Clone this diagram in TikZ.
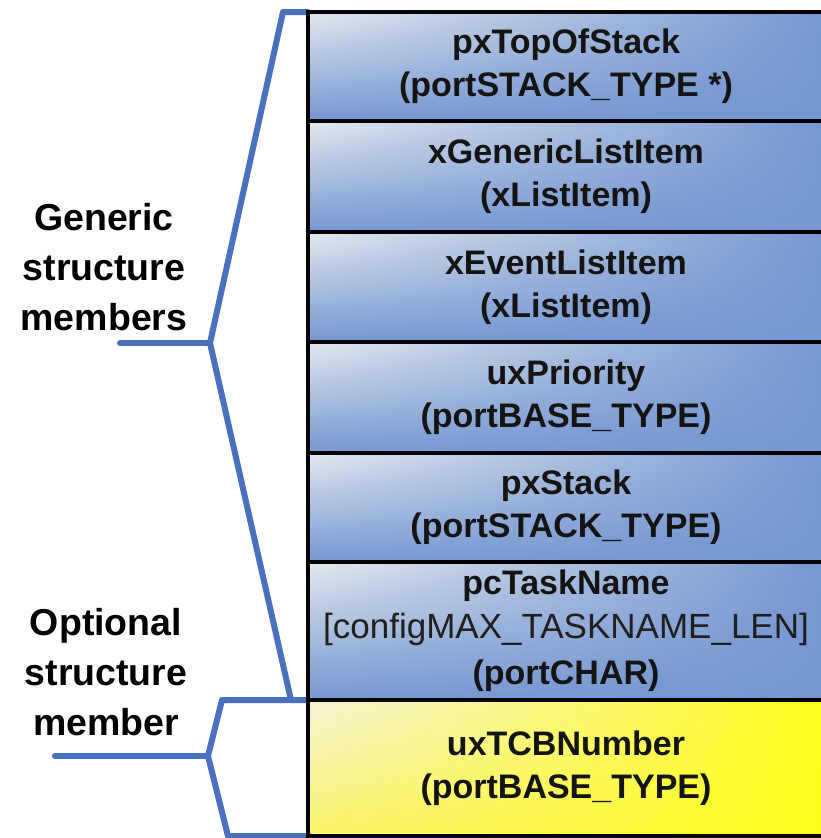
\documentclass[tikz,border=0pt]{standalone}
\usepackage{fontspec}
\setmainfont{Liberation Sans}
\usetikzlibrary{fadings}
\definecolor{braceblue}{HTML}{4A70C0}
\definecolor{boxlight}{HTML}{E4E8EF}
\definecolor{boxblue}{HTML}{7598D1}
\definecolor{ylight}{HTML}{F6F2D6}
\definecolor{ymid}{HTML}{FAF56A}
\definecolor{ybright}{HTML}{FFFF1E}
\begin{document}
\begin{tikzpicture}[x=1pt,y=-1pt,
  field/.style={draw=black, line width=3.5pt, minimum width=516pt, inner sep=0pt,
    align=center, font=\bfseries\fontsize{34}{43}\selectfont, text=black!92},
  bluefield/.style={field, top color=boxlight, bottom color=boxblue,
    path picture={\fill[boxblue, path fading=west] (path picture bounding box.south west) rectangle (path picture bounding box.north east);}},
  yellowfield/.style={field, top color=ylight, bottom color=ymid,
    path picture={\fill[ybright, path fading=west] (path picture bounding box.south west) rectangle (path picture bounding box.north east);}},
  sidelabel/.style={align=center, inner sep=0pt, font=\bfseries\fontsize{37.5}{50}\selectfont, text=black},
  bracket/.style={draw=braceblue, line width=6pt, line join=round, line cap=round}
]
\useasboundingbox[fill=white] (0,0) rectangle (820,838);

% braces (drawn first, boxes on top)
\coordinate (g1) at (308,12);
\coordinate (g2) at (283,12);
\coordinate (gtip) at (210,343);
\coordinate (g3) at (291,700);
\coordinate (gtick) at (120,343);
\coordinate (o1) at (308,700);
\coordinate (o2) at (222,700);
\coordinate (otip) at (208,756);
\coordinate (o3) at (228,836);
\coordinate (o4) at (308,836);
\coordinate (otick) at (55,756);
\draw[bracket] (g1) -- (g2) -- (gtip) -- (g3);
\draw[bracket] (gtick) -- (gtip);
\draw[bracket] (o1) -- (o2) -- (otip) -- (o3) -- (o4);
\draw[bracket] (otick) -- (otip);

% fields
\node[bluefield, minimum height=109pt] (f1) at (566,66.5) {pxTopOfStack\\(portSTACK\_TYPE *)};
\node[bluefield, minimum height=111pt] (f2) at (566,176.5) {xGenericListItem\\(xListItem)};
\node[bluefield, minimum height=110pt] (f3) at (566,287) {xEventListItem\\(xListItem)};
\node[bluefield, minimum height=111pt] (f4) at (566,397.5) {uxPriority\\(portBASE\_TYPE)};
\node[bluefield, minimum height=109pt] (f5) at (566,507.5) {pxStack\\(portSTACK\_TYPE)};
\node[bluefield, minimum height=138pt, font=\bfseries\fontsize{34}{46}\selectfont] (f6) at (566,631)
  {\raisebox{-2pt}{pcTaskName}\\{\mdseries\fontsize{35}{46}\selectfont\color{black!88}[configMAX\_TASKNAME\_LEN]}\\(portCHAR)};
\node[yellowfield, minimum height=136pt] (f7) at (566,768) {uxTCBNumber\\(portBASE\_TYPE)};

% side labels
\node[sidelabel, anchor=base] (generic) at (104,330) {Generic\\structure\\members};
\node[sidelabel, anchor=base] (optional) at (106,735) {Optional\\structure\\member};
\end{tikzpicture}
\end{document}
